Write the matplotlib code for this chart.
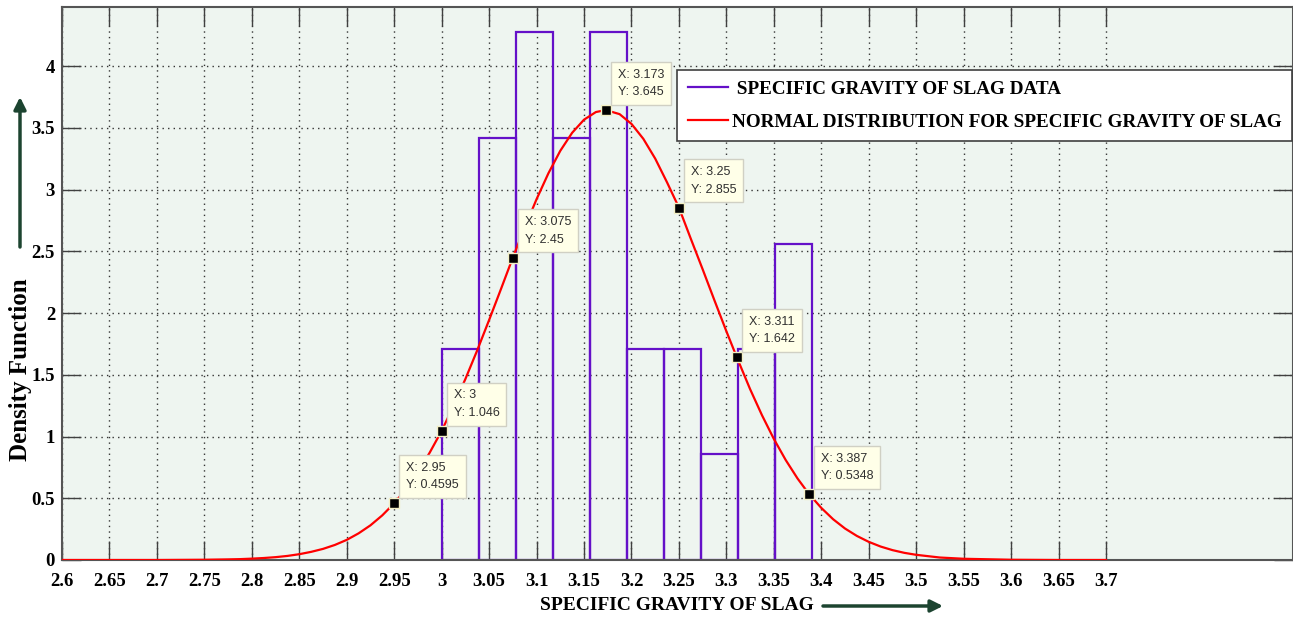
import matplotlib.pyplot as plt
from matplotlib.lines import Line2D

# histogram of specific gravity (density normalised)
bin_left = [3.0, 3.039, 3.078, 3.117, 3.156, 3.195, 3.234, 3.273, 3.312, 3.351]
bin_width = 0.039
density = [1.709, 3.419, 4.274, 3.419, 4.274, 1.709, 1.709, 0.855, 1.709, 2.564]

# fitted normal curve
curve_x = [2.6, 2.65, 2.7, 2.75, 2.775, 2.7875, 2.8, 2.8125, 2.825, 2.8375, 2.85,
           2.8625, 2.875, 2.8875, 2.9, 2.9125, 2.925, 2.9375, 2.95, 2.9625, 2.975,
           2.9875, 3.0, 3.0125, 3.025, 3.0375, 3.05, 3.0625, 3.075, 3.0875, 3.1,
           3.1125, 3.125, 3.1375, 3.15, 3.1625, 3.173, 3.1875, 3.2, 3.2125, 3.225,
           3.2375, 3.25, 3.2625, 3.275, 3.2875, 3.3, 3.311, 3.325, 3.3375, 3.35,
           3.3625, 3.375, 3.387, 3.4, 3.4125, 3.425, 3.4375, 3.45, 3.4625, 3.475,
           3.4875, 3.5, 3.525, 3.55, 3.6, 3.65, 3.7]
curve_y = [0.0, 0.0, 0.0, 0.002, 0.005, 0.007, 0.011, 0.016, 0.023, 0.033, 0.047,
           0.066, 0.090, 0.122, 0.163, 0.216, 0.281, 0.362, 0.4595, 0.576, 0.713,
           0.871, 1.046, 1.248, 1.466, 1.699, 1.944, 2.195, 2.45, 2.692, 2.923,
           3.133, 3.315, 3.461, 3.567, 3.629, 3.645, 3.612, 3.533, 3.412, 3.252,
           3.059, 2.855, 2.603, 2.355, 2.102, 1.853, 1.642, 1.384, 1.173, 0.981,
           0.810, 0.660, 0.5348, 0.422, 0.330, 0.255, 0.195, 0.147, 0.109, 0.080,
           0.058, 0.042, 0.020, 0.010, 0.002, 0.0, 0.0]

# data tips
tip_x = [2.95, 3.0, 3.075, 3.173, 3.25, 3.311, 3.387]
tip_y = [0.4595, 1.046, 2.45, 3.645, 2.855, 1.642, 0.5348]

x_ticks = [2.6, 2.65, 2.7, 2.75, 2.8, 2.85, 2.9, 2.95, 3.0, 3.05, 3.1, 3.15,
           3.2, 3.25, 3.3, 3.35, 3.4, 3.45, 3.5, 3.55, 3.6, 3.65, 3.7]
y_ticks = [0, 0.5, 1, 1.5, 2, 2.5, 3, 3.5, 4]

purple = '#6410c8'
arrow_col = '#1c4430'
serif = 'Liberation Serif'

W, H = 1293, 617
fig = plt.figure(figsize=(W / 100, H / 100), dpi=100)
ax = fig.add_axes([62 / W, 1 - 560 / H, 1 - 62 / W, (560 - 7) / H])
ax.set_facecolor('#eef5f0')

ax.bar(bin_left, density, width=bin_width, align='edge', fill=False,
       edgecolor=purple, linewidth=1.6, zorder=2)
ax.plot(curve_x, curve_y, color='red', lw=1.6, zorder=3)
ax.plot(tip_x, tip_y, 's', ms=7, mfc='black', mec='#f3efc4', mew=1, zorder=5)

for x, y in zip(tip_x, tip_y):
    ax.annotate(f'X: {x:g}\nY: {y:g}', (x, y), xytext=(12, 12),
                textcoords='offset pixels', ha='left', va='bottom',
                fontsize=9, family='Liberation Sans', color='#303030',
                linespacing=1.6, zorder=6,
                bbox=dict(boxstyle='square,pad=0.55', fc='#ffffe8',
                          ec='#d0d0c4', lw=1))

ax.set_xlim(2.6, 3.897)
ax.set_ylim(0, 4.48)
ax.set_xticks(x_ticks)
ax.set_xticklabels([f'{t:g}' for t in x_ticks])
ax.set_yticks(y_ticks)
ax.set_yticklabels([f'{t:g}' for t in y_ticks])
ax.tick_params(direction='in', length=14, width=1, color='#404040',
               top=True, right=True, labelsize=13.5)
ax.tick_params(axis='x', pad=9)
ax.tick_params(axis='y', pad=5)
for lbl in ax.get_xticklabels() + ax.get_yticklabels():
    lbl.set_fontfamily(serif)
    lbl.set_fontweight('bold')
ax.grid(True, linestyle=(0, (1, 3)), color='#333333', linewidth=1)
ax.set_axisbelow(True)
for sp in ax.spines.values():
    sp.set_color('#555555')
    sp.set_linewidth(1.5)

handles = [Line2D([], [], color=purple, lw=1.6), Line2D([], [], color='red', lw=1.6)]
labels = [' SPECIFIC GRAVITY OF SLAG DATA', 'NORMAL DISTRIBUTION FOR SPECIFIC GRAVITY OF SLAG']
leg = ax.legend(handles, labels, loc='upper right',
                bbox_to_anchor=(1292 / W, 1 - 70 / H), bbox_transform=fig.transFigure,
                borderaxespad=0, fancybox=False, edgecolor='#404040', framealpha=1,
                prop=dict(family=serif, weight='bold', size=13.75),
                handlelength=2.1, handletextpad=0.2, labelspacing=0.82, borderpad=0.55)
leg.get_frame().set_linewidth(1.2)
leg.set_zorder(7)

fig.text(677 / W, 1 - 605 / H, 'SPECIFIC GRAVITY OF SLAG', ha='center', va='center',
         fontsize=14, fontweight='bold', family=serif)
fig.text(21 / W, 1 - 370 / H, 'Density Function', rotation=90, ha='center',
         va='center', fontsize=18, fontweight='bold', family=serif)

arrow = dict(arrowstyle='-|>', color=arrow_col, lw=2.5, mutation_scale=18,
             shrinkA=0, shrinkB=0)
fig.add_artist(plt.Annotation('', xy=(943, H - 606), xytext=(823, H - 606),
                              xycoords='figure pixels', arrowprops=arrow))
fig.add_artist(plt.Annotation('', xy=(20, H - 97), xytext=(20, H - 247),
                              xycoords='figure pixels', arrowprops=arrow))

fig.savefig('out.png', dpi=100)
